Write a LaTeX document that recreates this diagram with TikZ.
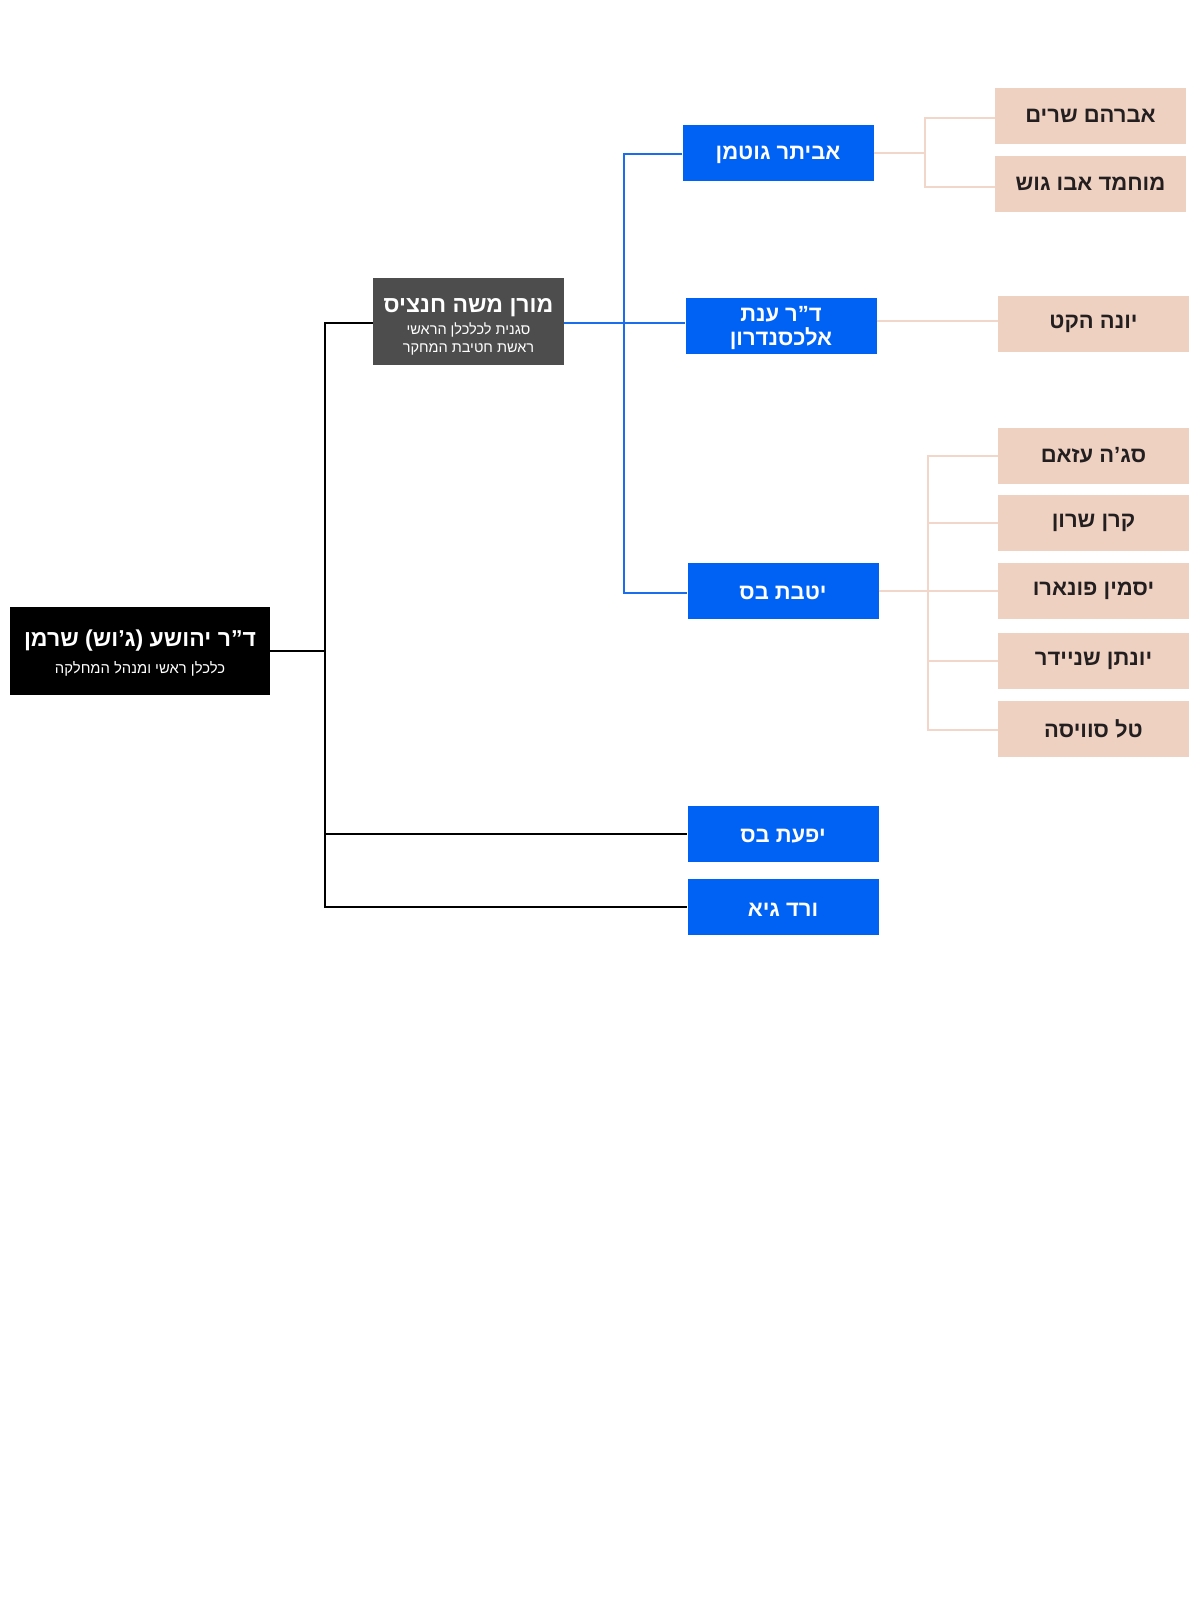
\documentclass[tikz,border=0pt]{standalone}
\usepackage{fontspec}
\newfontfamily\heb[Script=Hebrew]{Liberation Sans}
\TeXXeTstate=1
\newcommand{\hb}[1]{\beginR #1\endR}
\definecolor{bluebox}{HTML}{0062F5}
\definecolor{blueline}{HTML}{1A6EEB}
\definecolor{peach}{HTML}{EFD1C2}
\definecolor{peachline}{HTML}{F2D6C9}
\definecolor{grayb}{HTML}{4D4D4D}
\definecolor{darktext}{HTML}{231F20}
\tikzset{
  boxbase/.style={rectangle, inner sep=0pt, align=center, font=\heb},
  rootbox/.style={boxbase, fill=black, text=white, minimum width=260pt, minimum height=88pt,
     font=\heb\fontsize{14.8}{27}\selectfont},
  graybox/.style={boxbase, fill=grayb, text=white, minimum width=191pt, minimum height=87pt,
     font=\heb\fontsize{14.5}{18}\selectfont},
  bluebx/.style={boxbase, fill=bluebox, text=white, minimum width=191pt, minimum height=56pt,
     font=\heb\bfseries\fontsize{22}{24.5}\selectfont},
  peachbx/.style={boxbase, fill=peach, text=darktext, minimum width=191pt, minimum height=56pt,
     font=\heb\bfseries\fontsize{22}{24}\selectfont},
  blk/.style={draw=black, line width=2pt},
  blu/.style={draw=blueline, line width=2pt},
  pch/.style={draw=peachline, line width=2pt},
}
\begin{document}
\begin{tikzpicture}[x=1pt,y=-1pt]
\path[use as bounding box, fill=white] (0,0) rectangle (1200,1600);

% main nodes
\node[rootbox] (root) at (140,651)
  {{\bfseries\fontsize{23}{28}\selectfont\rule{0pt}{21pt}\hb{ד”ר יהושע (ג’וש) שרמן}}\\
   \hb{כלכלן ראשי ומנהל המחלקה}};
\node[graybox] (moran) at (468.5,321.5)
  {{\bfseries\fontsize{23}{18}\selectfont\rule{0pt}{25pt}\hb{מורן משה חנציס}}\\[4pt]
   \hb{סגנית לכלכלן הראשי}\\
   \hb{ראשת חטיבת המחקר}};

% blue boxes
\node[bluebx] (evyatar) at (778,153) {\rule{0pt}{18pt}\hb{אביתר גוטמן}};
\node[bluebx] (anat) at (781,325.5) {\rule{0pt}{20pt}\hb{ד”ר ענת}\\\hb{אלכסנדרון}};
\node[bluebx] (yitbat) at (783,591) {\rule{0pt}{18pt}\hb{יטבת בס}};
\node[bluebx] (yifat) at (783,834) {\rule{0pt}{18pt}\hb{יפעת בס}};
\node[bluebx] (vered) at (783,907) {\rule{0pt}{18pt}\hb{ורד גיא}};

% peach boxes
\node[peachbx] (avraham) at (1090.5,116) {\hb{אברהם שרים}};
\node[peachbx] (muhammad) at (1090.5,184) {\hb{מוחמד אבו גוש}};
\node[peachbx] (yona) at (1093.5,324) {\hb{יונה הקט}};
\node[peachbx] (saja) at (1093.5,455.5) {\hb{סג’ה עזאם}};
\node[peachbx] (keren) at (1093.5,523) {\hb{קרן שרון}};
\node[peachbx] (yasmin) at (1093.5,591) {\hb{יסמין פונארו}};
\node[peachbx] (yonatan) at (1093.5,661) {\hb{יונתן שניידר}};
\node[peachbx] (tal) at (1093.5,729) {\hb{טל סוויסה}};

% black bus
\coordinate (bt) at (324.5,322.5);
\coordinate (bb) at (324.5,907);
\draw[blk, line join=miter] (moran.west |- bt) -- (bt) -- (bb) -- (vered.west);
\draw[blk] (root.east) -- (root.east -| bt);
\draw[blk] (yifat.west -| bt) -- (yifat.west);

% blue bus
\coordinate (ut) at (623.5,154);
\coordinate (um) at (623.5,323);
\coordinate (ub) at (623.5,593);
\draw[blu] (evyatar.west |- ut) -- (ut) -- (ub) -- (yitbat.west |- ub);
\draw[blu] (moran.east |- um) -- (anat.west |- um);

% peach connectors
\coordinate (p1t) at (925,118);
\coordinate (p1b) at (925,187);
\draw[pch] (avraham.west |- p1t) -- (p1t) -- (p1b) -- (muhammad.west |- p1b);
\draw[pch] (evyatar.east) -- (evyatar.east -| p1t);
\coordinate (yl) at (900,320.5);
\draw[pch] (anat.east |- yl) -- (yona.west |- yl);
\coordinate (p2t) at (927.5,455.5);
\coordinate (p2b) at (927.5,730);
\draw[pch] (saja.west) -- (p2t) -- (p2b) -- (tal.west |- p2b);
\draw[pch] (yitbat.east) -- (yasmin.west);
\draw[pch] (keren.west -| p2t) -- (keren.west);
\draw[pch] (yonatan.west -| p2t) -- (yonatan.west);
\end{tikzpicture}
\end{document}
